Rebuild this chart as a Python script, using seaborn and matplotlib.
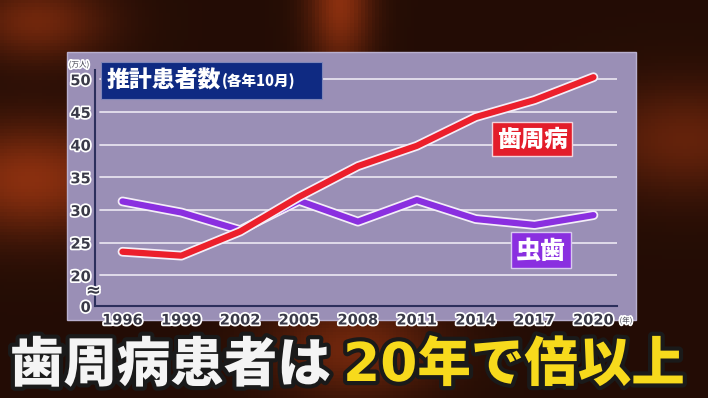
import numpy as np
import pandas as pd
import matplotlib
matplotlib.use("Agg")
import matplotlib.pyplot as plt
import matplotlib.patheffects as pe
from matplotlib.patches import Rectangle
import seaborn as sns

years = [1996, 1999, 2002, 2005, 2008, 2011, 2014, 2017, 2020]
perio = [23.6, 23.0, 26.7, 32.0, 36.7, 39.8, 44.2, 46.8, 50.3]   # 歯周病
caries = [31.3, 29.6, 26.9, 31.4, 28.2, 31.5, 28.6, 27.7, 29.2]  # 虫歯
y_ticks = [15.3, 20, 25, 30, 35, 40, 45, 50]
y_labels = ["0", "20", "25", "30", "35", "40", "45", "50"]

sns.set_style("white")
plt.rcParams['font.family'] = ['Noto Sans CJK JP', 'DejaVu Sans']

W, H = 708, 398
fig = plt.figure(figsize=(W / 100, H / 100), dpi=100)

# dark blurred background
bg = fig.add_axes([0, 0, 1, 1])
xx, yy = np.meshgrid(np.linspace(0, 1, 200), np.linspace(0, 1, 120))
glow = (np.exp(-((xx - 0.04) ** 2 + (yy - 0.45) ** 2) / 0.02) * 0.8
        + np.exp(-((xx - 0.97) ** 2 + (yy - 0.35) ** 2) / 0.02) * 0.5
        + np.exp(-((xx - 0.05) ** 2 + (yy - 0.05) ** 2) / 0.01) * 0.6
        + np.exp(-((xx - 0.48) ** 2) / 0.002 - (yy ** 2) / 0.03) * 0.8
        + np.exp(-((xx - 0.5) ** 2 + (yy - 0.88) ** 2) / 0.015) * 0.6)
glow = np.clip(glow, 0, 1)
img = np.zeros(xx.shape + (3,))
img[..., 0] = 0.14 + 0.50 * glow
img[..., 1] = 0.05 + 0.17 * glow
img[..., 2] = 0.02 + 0.05 * glow
bg.imshow(img, extent=[0, 1, 0, 1], aspect="auto", origin="upper")
bg.set_axis_off()

# chart panel
fig.patches.append(Rectangle((67 / W, 1 - 320 / H), (636 - 67) / W, (320 - 52) / H,
                             transform=fig.transFigure, facecolor="#9a8fb6",
                             edgecolor="#b9b0cf", linewidth=1, zorder=1))

ax = fig.add_axes([95 / W, 1 - 306 / H, (617 - 95) / W, (306 - 70) / H])
ax.set_zorder(2)
ax.patch.set_alpha(0)

df = pd.DataFrame({"year": years * 2,
                   "value": caries + perio,
                   "kind": ["虫歯"] * len(years) + ["歯周病"] * len(years)})
sns.lineplot(data=df, x="year", y="value", hue="kind",
             palette={"虫歯": "#8a2fe0", "歯周病": "#ec1f2b"},
             linewidth=4.5, legend=False, ax=ax, zorder=3)
for line in ax.get_lines():
    line.set_path_effects([pe.Stroke(linewidth=7, foreground="#f4eef8"), pe.Normal()])
    line.set_solid_capstyle("round")
    line.set_solid_joinstyle("round")

ax.set_xlim(1994.6, 2021.2)
ax.set_ylim(15.3, 51.4)
for v in y_ticks[1:]:
    ax.axhline(v, color="#e6e1ee", linewidth=1.3, xmin=0.01, zorder=1)

ax.set_yticks(y_ticks)
ax.set_yticklabels(y_labels)
ax.set_xticks(years)
ax.set_xticklabels([str(y) for y in years])
ax.tick_params(length=0, pad=3)
outline = [pe.withStroke(linewidth=2.5, foreground="white")]
for lab in ax.get_yticklabels() + ax.get_xticklabels():
    lab.set_fontfamily("DejaVu Sans")
    lab.set_fontweight("bold")
    lab.set_fontsize(10.5)
    lab.set_color("#3a3a48")
    lab.set_path_effects(outline)
for lab in ax.get_xticklabels():
    lab.set_y(-0.01)
ax.set_xlabel("")
ax.set_ylabel("")
for s in ["top", "right"]:
    ax.spines[s].set_visible(False)
for s in ["left", "bottom"]:
    ax.spines[s].set_color("#2c2f5c")
    ax.spines[s].set_linewidth(1.5)

ax.text(-0.003, 17.6, "≈", transform=ax.get_yaxis_transform(), ha="center", va="center",
        fontsize=13, color="#3a3a48", fontweight="bold", path_effects=outline,
        family="DejaVu Sans")
fig.text(79 / W, 1 - 65 / H, "(万人)", fontsize=5.5, color="#3a3a48", ha="center",
         va="center", path_effects=outline)
fig.text(626 / W, 1 - 321 / H, "(年)", fontsize=5.5, color="#3a3a48", ha="center",
         va="center", path_effects=outline)

# title box
fig.patches.append(Rectangle((101 / W, 1 - 99 / H), (322 - 101) / W, (99 - 62) / H,
                             transform=fig.transFigure, facecolor="#0f2a82",
                             edgecolor="#7f86b8", linewidth=0.8, zorder=3))
fig.text(107 / W, 1 - 81 / H, "推計患者数", fontsize=16.5, fontweight="black",
         color="white", va="center", ha="left", zorder=4)
fig.text(222 / W, 1 - 82 / H, "(各年10月)", fontsize=10.5, fontweight="black",
         color="white", va="center", ha="left", zorder=4)

# series labels
ax.text(2016.87, 40.8, "歯周病", fontsize=17, fontweight="black", color="white",
        ha="center", va="center", zorder=5,
        bbox=dict(boxstyle="square,pad=0.2", facecolor="#e31d2a", edgecolor="#f2d4dc",
                  linewidth=1))
ax.text(2017.35, 23.8, "虫歯", fontsize=18, fontweight="black", color="white",
        ha="center", va="center", zorder=5,
        bbox=dict(boxstyle="square,pad=0.2", facecolor="#8a2fe0", edgecolor="#d8c8f0",
                  linewidth=1))

# headline
head_fx = [pe.withStroke(linewidth=6, foreground="#1a1a1a")]
fig.text(10 / W, 1 - 366 / H, "歯周病患者は", fontsize=38.5, fontweight="black",
         color="#f4f4f4", ha="left", va="center", path_effects=head_fx)
fig.text(343 / W, 1 - 366 / H, "20年で倍以上", fontsize=38.5, fontweight="black",
         color="#f7da1c", ha="left", va="center", path_effects=head_fx,
         family=["DejaVu Sans", "Noto Sans CJK JP"])

fig.savefig("out.png", dpi=100)
